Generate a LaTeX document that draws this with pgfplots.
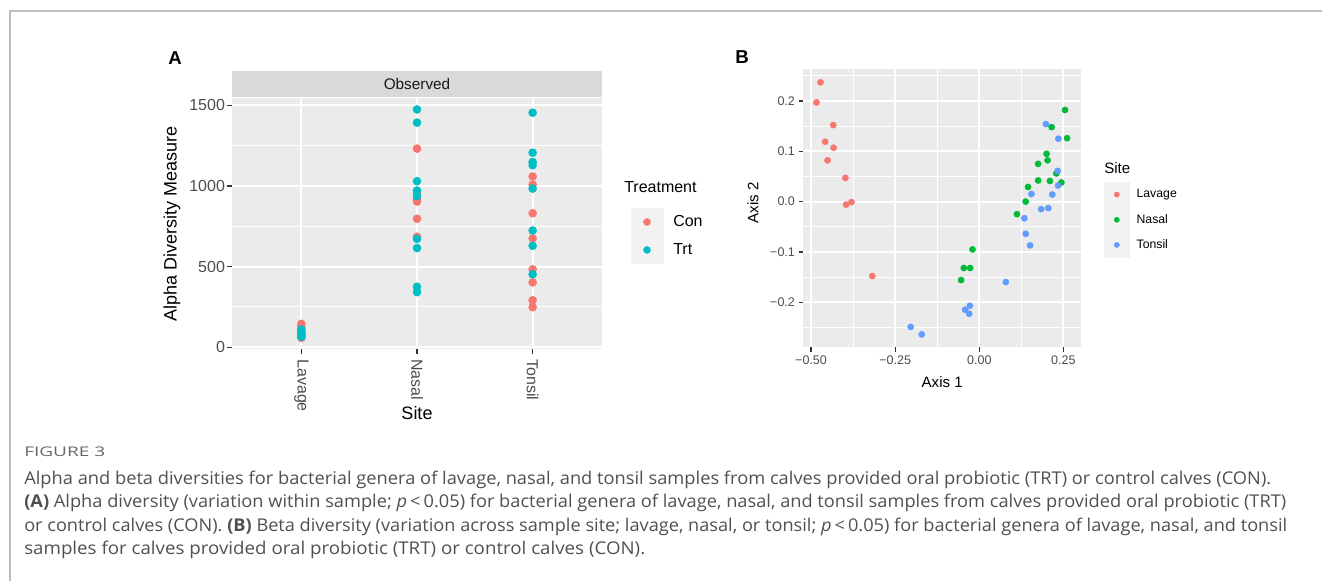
\documentclass[border=0pt]{standalone}
\usepackage{pgfplots}
\pgfplotsset{compat=1.18}
\usepackage{fontspec}
\usepackage{graphicx}
\setmainfont{Liberation Sans}
\newfontfamily\capfont{Open Sans}
\definecolor{conred}{HTML}{F8766D}
\definecolor{trtcyan}{HTML}{00BFC4}
\definecolor{nasalgreen}{HTML}{00BA38}
\definecolor{tonsilblue}{HTML}{619CFF}
\definecolor{ggbg}{HTML}{EBEBEB}
\definecolor{stripbg}{HTML}{D9D9D9}
\definecolor{keybg}{HTML}{F2F2F2}
\definecolor{tickcol}{HTML}{333333}
\definecolor{labcol}{HTML}{4D4D4D}
\definecolor{capgray}{HTML}{505050}
\definecolor{figgray}{HTML}{666666}
\definecolor{framegray}{HTML}{BDBDBD}
\newlength\fitlen
\newcommand\fitline[2]{\settowidth\fitlen{#2}\pgfmathsetmacro\fitratio{#1/\fitlen}\scalebox{\fitratio}[1]{#2}}
\pgfplotsset{
 gg/.style={
  scale only axis,
  axis background/.style={fill=ggbg},
  axis line style={draw=none},
  grid=both,
  major grid style={white, line width=1.4pt},
  minor grid style={white, line width=0.7pt},
  tick align=outside,
  tick pos=left,
  major tick length=3.6pt,
  minor tick length=0pt,
  tick style={color=tickcol, line width=1pt},
  scaled ticks=false,
 },
 legA/.style={legend image code/.code={\fill[keybg] (0pt,-10.3pt) rectangle (24pt,10.3pt); \draw[##1, mark size=2.6pt] plot coordinates {(12pt,0pt)};}},
 legB/.style={legend image code/.code={\fill[keybg] (0pt,-9.25pt) rectangle (18.75pt,9.25pt); \draw[##1, mark size=1.9pt] plot coordinates {(9.375pt,0pt)};}},
}
\begin{document}
\begin{tikzpicture}
\useasboundingbox (0,0) rectangle (991.5pt,435.75pt);
\begin{scope}[x=0.75pt,y=-0.75pt,shift={(0pt,435.75pt)}]
 \draw[framegray, line width=1pt] (10,581) -- (10,11) -- (1322,11);
 \fill[stripbg] (232,71) rectangle (602,97);
 \node[font=\fontsize{11.5}{13}\selectfont, text=black!90] at (417,84) {Observed};
 \node[font=\bfseries\fontsize{14}{16}\selectfont] at (175,58) {A};
 \node[font=\bfseries\fontsize{14}{16}\selectfont] at (742,57) {B};
 \node[anchor=west, inner sep=0pt, font=\fontsize{12}{14}\selectfont] at (624,187) {Treatment};
 \node[anchor=west, inner sep=0pt, font=\fontsize{11.3}{13}\selectfont] at (1104,168) {Site};
 \node[anchor=west, inner sep=0pt, font=\capfont\fontsize{10}{12}\selectfont, text=figgray] at (24,452) {\fitline{60.75pt}{FIGURE 3}};
 \node[anchor=west, inner sep=0pt, font=\capfont\fontsize{13.2}{15}\selectfont, text=capgray] at (24,480) {\fitline{935.25pt}{Alpha and beta diversities for bacterial genera of lavage, nasal, and tonsil samples from calves provided oral probiotic (TRT) or control calves (CON).}};
 \node[anchor=west, inner sep=0pt, font=\capfont\fontsize{13.2}{15}\selectfont, text=capgray] at (24,503) {\fitline{946.5pt}{\textbf{(A)} Alpha diversity (variation within sample; \textit{p}\,<\,0.05) for bacterial genera of lavage, nasal, and tonsil samples from calves provided oral probiotic (TRT)}};
 \node[anchor=west, inner sep=0pt, font=\capfont\fontsize{13.2}{15}\selectfont, text=capgray] at (24,527) {\fitline{947.25pt}{or control calves (CON). \textbf{(B)} Beta diversity (variation across sample site; lavage, nasal, or tonsil; \textit{p}\,<\,0.05) for bacterial genera of lavage, nasal, and tonsil}};
 \node[anchor=west, inner sep=0pt, font=\capfont\fontsize{13.2}{15}\selectfont, text=capgray] at (24,550) {\fitline{465.75pt}{samples for calves provided oral probiotic (TRT) or control calves (CON).}};
\end{scope}

% Panel A
\begin{axis}[gg,
 at={(174pt,174pt)}, anchor=south west, width=277.5pt, height=188.25pt,
 xmin=0.4, xmax=3.6, ymin=-11, ymax=1546,
 xtick={1,2,3}, xticklabels={Lavage,Nasal,Tonsil},
 ytick={0,500,1000,1500}, yticklabels={0,500,1000,1500},
 minor ytick={250,750,1250},
 ticklabel style={font=\fontsize{12}{14}\selectfont, text=labcol},
 yticklabel style={inner sep=1.5pt},
 xticklabel style={rotate=-90, anchor=west, inner sep=4pt},
 xlabel={Site}, xlabel style={at={(axis description cs:0.5,-0.255)}, anchor=center, font=\fontsize{13.5}{16}\selectfont},
 ylabel={Alpha Diversity Measure}, ylabel style={at={(axis description cs:-0.162,0.5)}, anchor=center, font=\fontsize{13.5}{16}\selectfont},
 legend style={at={(axis description cs:1.0776,0.5618)}, anchor=north west, draw=none, fill=none, inner sep=0pt, outer sep=0pt, row sep=0pt, column sep=7.5pt, nodes={inner sep=0pt, font=\fontsize{12}{14}\selectfont}},
 legend cell align=left,
]
\addplot[only marks, mark=*, mark size=3pt, color=conred, mark options={draw=none, fill=conred}, legA] table {
x y
1 145
1 128
1 58
2 1232
2 957
2 916
2 903
2 797
2 685
3 1059
3 1009
3 831
3 675
3 483
3 402
3 291
3 248
};
\addlegendentry{Con}
\addplot[only marks, mark=*, mark size=3pt, color=trtcyan, mark options={draw=none, fill=trtcyan}, legA] table {
x y
1 110
1 100
1 90
1 80
1 70
1 65
2 1475
2 1393
2 1030
2 972
2 937
2 672
2 615
2 375
2 342
3 1455
3 1207
3 1149
3 1129
3 984
3 724
3 629
3 452
};
\addlegendentry{Trt}
\end{axis}

% Panel B
\begin{axis}[gg,
 at={(602.5pt,175.3pt)}, anchor=south west, width=208.3pt, height=208.5pt,
 xmin=-0.523, xmax=0.3026, ymin=-0.2895, ymax=0.263,
 xtick={-0.5,-0.25,0,0.25}, xticklabels={−0.50,−0.25,0.00,0.25},
 ytick={-0.2,-0.1,0,0.1,0.2}, yticklabels={−0.2,−0.1,0.0,0.1,0.2},
 minor xtick={-0.375,-0.125,0.125},
 minor ytick={-0.25,-0.15,-0.05,0.05,0.15,0.25},
 ticklabel style={font=\fontsize{9.4}{11}\selectfont, text=labcol, inner sep=2.5pt},
 xlabel={Axis 1}, xlabel style={at={(axis description cs:0.5,-0.124)}, anchor=center, font=\fontsize{11.3}{13}\selectfont},
 ylabel={Axis 2}, ylabel style={at={(axis description cs:-0.181,0.52)}, anchor=center, font=\fontsize{11.3}{13}\selectfont},
 legend style={at={(axis description cs:1.0828,0.5946)}, anchor=north west, draw=none, fill=none, inner sep=0pt, outer sep=0pt, row sep=0pt, column sep=5.25pt, nodes={inner sep=0pt, font=\fontsize{9.2}{11}\selectfont}},
 legend cell align=left,
]
\addplot[only marks, mark=*, mark size=2.3pt, color=conred, mark options={draw=none, fill=conred}, legB] table {
x y
-0.472 0.237
-0.484 0.197
-0.434 0.152
-0.458 0.119
-0.433 0.107
-0.451 0.082
-0.398 0.047
-0.396 -0.006
-0.380 -0.001
-0.318 -0.148
};
\addlegendentry{Lavage}
\addplot[only marks, mark=*, mark size=2.3pt, color=nasalgreen, mark options={draw=none, fill=nasalgreen}, legB] table {
x y
0.255 0.182
0.215 0.148
0.261 0.126
0.200 0.095
0.203 0.082
0.175 0.075
0.229 0.056
0.175 0.042
0.210 0.041
0.244 0.038
0.145 0.029
0.138 0.000
0.112 -0.025
-0.020 -0.095
-0.046 -0.132
-0.027 -0.132
-0.054 -0.156
};
\addlegendentry{Nasal}
\addplot[only marks, mark=*, mark size=2.3pt, color=tonsilblue, mark options={draw=none, fill=tonsilblue}, legB] table {
x y
0.198 0.154
0.235 0.125
0.233 0.061
0.234 0.032
0.155 0.015
0.217 0.014
0.184 -0.015
0.205 -0.013
0.134 -0.033
0.138 -0.064
0.151 -0.087
0.079 -0.160
-0.028 -0.207
-0.042 -0.215
-0.030 -0.223
-0.204 -0.249
-0.171 -0.264
};
\addlegendentry{Tonsil}
\end{axis}
\end{tikzpicture}
\end{document}
